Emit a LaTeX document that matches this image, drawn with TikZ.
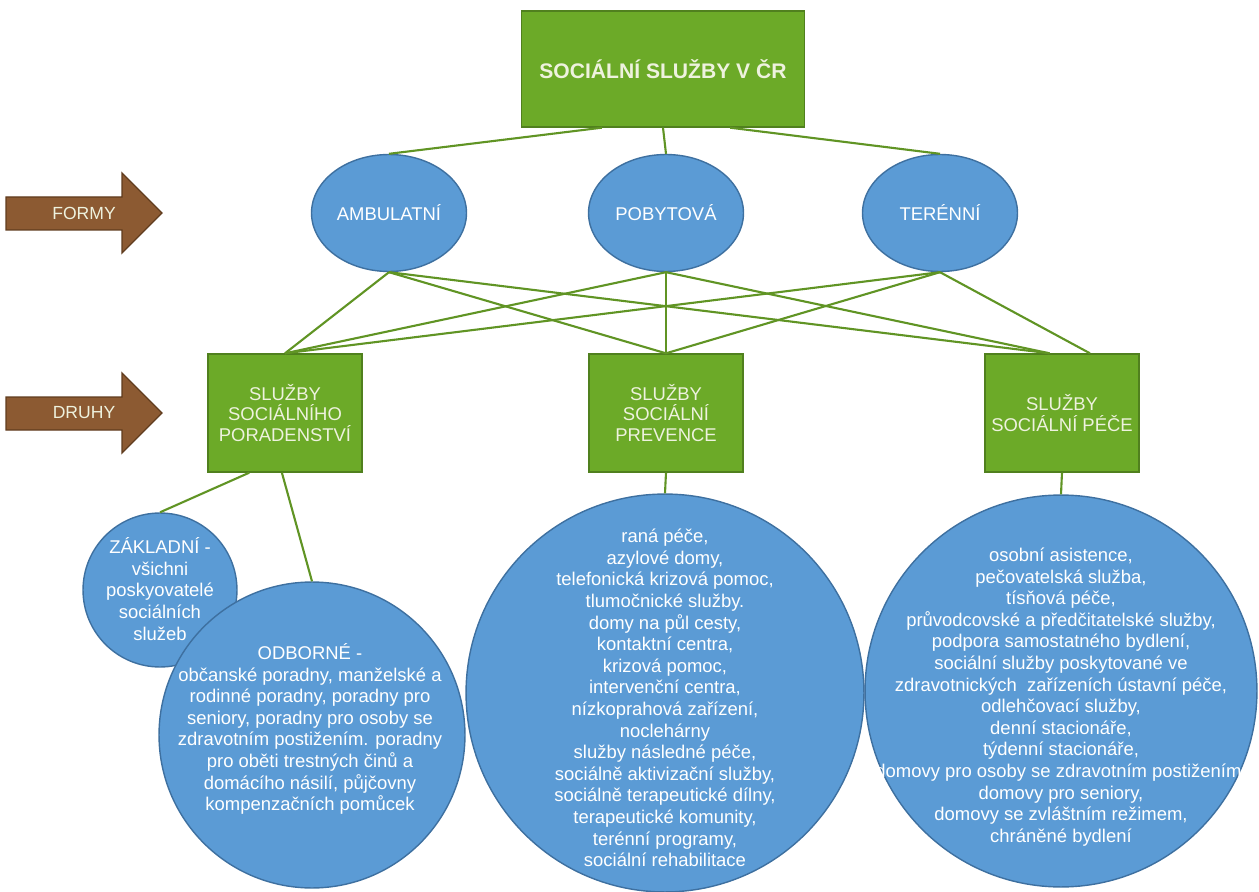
\documentclass[tikz,border=0pt]{standalone}
\usepackage{fontspec}
\setmainfont{Liberation Sans}
\usetikzlibrary{calc,shapes.geometric}

\definecolor{boxgreen}{RGB}{108,170,40}
\definecolor{boxedge}{RGB}{80,128,30}
\definecolor{linegreen}{RGB}{96,148,36}
\definecolor{circblue}{RGB}{91,155,213}
\definecolor{circedge}{RGB}{62,112,160}
\definecolor{arrowbrown}{RGB}{140,90,50}
\definecolor{arrowedge}{RGB}{96,60,30}
\definecolor{paletext}{RGB}{238,242,222}

\begin{document}
\begin{tikzpicture}[%
      x=0.02cm, y=-0.02cm,
      greenbox/.style={draw=boxedge, fill=boxgreen, line width=0.8pt, text=paletext,
        align=center, inner sep=0pt, font=\fontsize{10.5}{11.5}\selectfont},
      formnode/.style={ellipse, draw=circedge, fill=circblue, line width=0.8pt, text=white,
        inner sep=0pt, minimum width=3.1cm, minimum height=2.34cm, font=\fontsize{10.5}{12}\selectfont},
      bluecirc/.style={circle, draw=circedge, fill=circblue, line width=0.8pt, inner sep=0pt},
      bluetext/.style={text=white, align=center, inner sep=0pt, font=\fontsize{10.5}{12.3}\selectfont},
      link/.style={draw=linegreen, line width=1.2pt},
      arrowshape/.style={draw=arrowedge, fill=arrowbrown, line width=0.8pt},
      arrowtext/.style={text=paletext, inner sep=0pt, font=\fontsize{10}{12}\selectfont},
      ]
      \useasboundingbox (0,0) rectangle (1259,892);

      % top box
      \node[greenbox, minimum width=5.66cm, minimum height=2.32cm,
        font=\bfseries\fontsize{12}{14}\selectfont] (root) at (663,69) {SOCIÁLNÍ SLUŽBY V ČR};

      % forms
      \node[formnode] (amb) at (389,213) {AMBULATNÍ};
      \node[formnode] (pob) at (666,213) {POBYTOVÁ};
      \node[formnode] (ter) at (940,213) {TERÉNNÍ};

      % kinds
      \node[greenbox, minimum width=3.08cm, minimum height=2.36cm] (lbox) at (285,413) {SLUŽBY\\SOCIÁLNÍHO\\PORADENSTVÍ};
      \node[greenbox, minimum width=3.08cm, minimum height=2.36cm] (mbox) at (666,413) {SLUŽBY\\SOCIÁLNÍ\\PREVENCE};
      \node[greenbox, minimum width=3.08cm, minimum height=2.36cm] (rbox) at (1062,413) {SLUŽBY\\SOCIÁLNÍ PÉČE};

      % side arrows
      \filldraw[arrowshape] (6,197) -- (122,197) -- (122,173) -- (162,213) -- (122,253) -- (122,230) -- (6,230) -- cycle;
      \node[arrowtext] (formy) at (84,213) {FORMY};
      \filldraw[arrowshape] (6,397) -- (122,397) -- (122,373) -- (162,413) -- (122,453) -- (122,430) -- (6,430) -- cycle;
      \node[arrowtext] (druhy) at (84,413) {DRUHY};

      % service circles
      \node[bluecirc, minimum size=3.08cm] (basic) at (160,590) {};
      \node[bluecirc, minimum size=6.12cm] (expert) at (312,735) {};
      \node[bluecirc, minimum size=7.96cm] (prev) at (665,693) {};
      \node[bluecirc, minimum size=7.84cm] (care) at (1061,691) {};

      \node[bluetext] (basictxt) at (160,589) {ZÁKLADNÍ -\\všichni\\poskyovatelé\\sociálních\\služeb};
      \node[bluetext] (experttxt) at (310,729) {ODBORNÉ -\\občanské poradny, manželské a\\rodinné poradny, poradny pro\\seniory, poradny pro osoby se\\zdravotním postižením. poradny\\pro oběti trestných činů a\\domácího násilí, půjčovny\\kompenzačních pomůcek};
      \node[bluetext] (prevtxt) at (665,698) {raná péče,\\azylové domy,\\telefonická krizová pomoc,\\tlumočnické služby.\\domy na půl cesty,\\kontaktní centra,\\krizová pomoc,\\intervenční centra,\\nízkoprahová zařízení,\\noclehárny\\služby následné péče,\\sociálně aktivizační služby,\\sociálně terapeutické dílny,\\terapeutické komunity,\\terénní programy,\\sociální rehabilitace};
      \node[bluetext] (caretxt) at (1061,697) {osobní asistence,\\pečovatelská služba,\\tísňová péče,\\průvodcovské a předčitatelské služby,\\podpora samostatného bydlení,\\sociální služby poskytované ve\\zdravotnických \ zařízeních ústavní péče,\\odlehčovací služby,\\denní stacionáře,\\týdenní stacionáře,\\domovy pro osoby se zdravotním postižením,\\domovy pro seniory,\\domovy se zvláštním režimem,\\chráněné bydlení};

      % links root - forms
      \draw[link] ($(root.south west)!0.285!(root.south east)$) -- (amb.north);
      \draw[link] (root.south) -- (pob.north);
      \draw[link] ($(root.south west)!0.736!(root.south east)$) -- (ter.north);

      % links forms - kinds
      \draw[link] (amb.south) -- (lbox.north);
      \draw[link] (amb.south) -- (mbox.north);
      \draw[link] (amb.south) -- ($(rbox.north west)!0.42!(rbox.north east)$);
      \draw[link] (pob.south) -- (lbox.north);
      \draw[link] (pob.south) -- (mbox.north);
      \draw[link] (pob.south) -- ($(rbox.north west)!0.42!(rbox.north east)$);
      \draw[link] (ter.south) -- (lbox.north);
      \draw[link] (ter.south) -- (mbox.north);
      \draw[link] (ter.south) -- ($(rbox.north west)!0.68!(rbox.north east)$);

      % links kinds - circles
      \draw[link] ($(lbox.south west)!0.27!(lbox.south east)$) -- (basic.north);
      \draw[link] ($(lbox.south west)!0.48!(lbox.south east)$) -- (expert.north);
      \draw[link] (mbox.south) -- (prev.north);
      \draw[link] (rbox.south) -- (care.north);
\end{tikzpicture}
\end{document}
